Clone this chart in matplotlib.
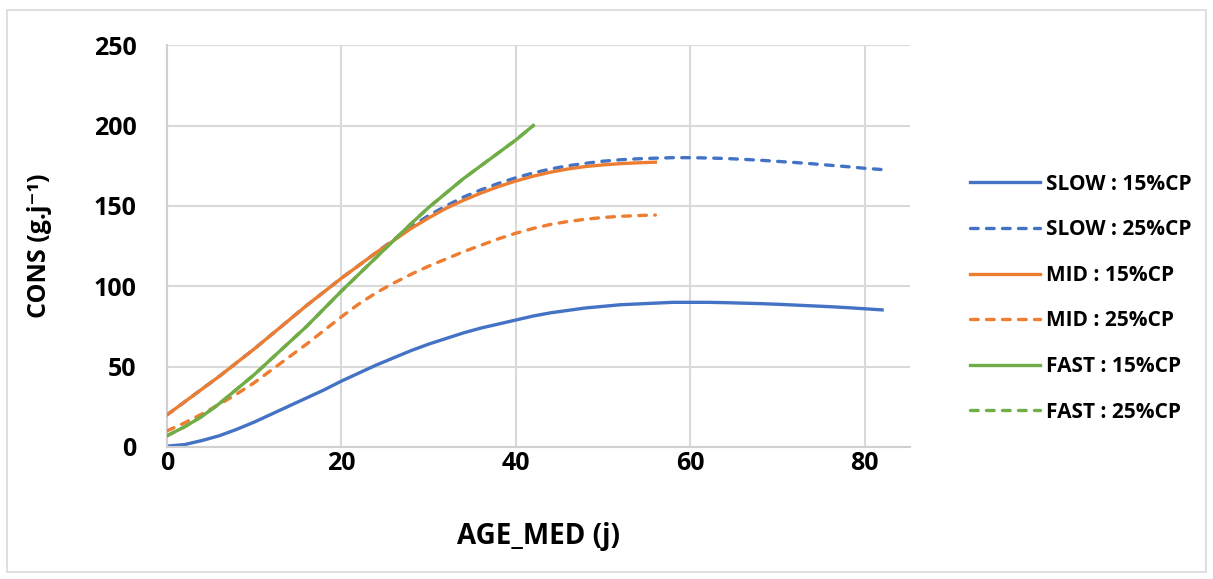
import matplotlib
matplotlib.use("Agg")
import matplotlib.pyplot as plt
from matplotlib.patches import Rectangle

plt.rcParams['font.family'] = ['Open Sans', 'DejaVu Sans']
plt.rcParams['font.weight'] = 'bold'

# values
slow15_x = list(range(0, 83, 2))
slow15_y = [0.5, 1.5, 4, 7, 11, 15.5, 20.5, 25.5, 30.5, 35.5, 41, 46, 51, 55.5, 60, 64, 67.5, 71, 74, 76.5, 79,
            81.5, 83.5, 85, 86.5, 87.5, 88.5, 89, 89.5, 90, 90, 90, 89.8, 89.5, 89.2, 88.8, 88.3, 87.8, 87.3,
            86.7, 86, 85.3]

slow25_x = list(range(0, 83, 2))
slow25_y = [20, 28, 36, 44, 52.5, 61, 70, 79, 88, 96.5, 105, 113, 121, 129, 137, 144, 150, 155.5, 160, 164,
            167.5, 170.5, 173, 175, 176.5, 177.8, 178.7, 179.3, 179.7, 180, 180, 179.8, 179.5, 179, 178.4,
            177.7, 177, 176.2, 175.3, 174.4, 173.4, 172.6]

mid15_x = list(range(0, 57, 2))
mid15_y = [20, 28, 36, 44, 52.5, 61, 70, 79, 88, 96.5, 105, 113, 121, 128.5, 136, 142.5, 148.5, 153.5, 158,
           162, 165.5, 168.5, 171, 173, 174.5, 175.5, 176.3, 176.8, 177.2]

mid25_x = list(range(0, 57, 2))
mid25_y = [10, 15, 20.5, 26.5, 33, 40, 48, 56, 64, 72.5, 81, 89, 96, 102, 107.5, 112.5, 117, 121.5, 125.5,
           129.5, 133, 136, 138.5, 140.3, 141.7, 142.8, 143.5, 144, 144.3]

fast15_x = list(range(0, 43, 2))
fast15_y = [7, 12.5, 19, 27, 36, 45, 55, 65, 75, 86, 97, 107.5, 118, 128.5, 139, 149, 158, 167, 175, 183,
            191, 200]

fast25_x = fast15_x
fast25_y = fast15_y

blue = '#4472C4'
orange = '#ED7D31'
green = '#70AD47'

fig = plt.figure(figsize=(12.13, 5.79), dpi=100)
ax = fig.add_axes([0.1377, 0.228, 0.6125, 0.694])

lw = 2.4
dash = (0, (2.3, 2.5))
dkw = dict(ls=dash, dash_capstyle='round')
ax.plot(slow15_x, slow15_y, color=blue, lw=lw, label='SLOW : 15%CP')
ax.plot(slow25_x, slow25_y, color=blue, lw=lw, label='SLOW : 25%CP', **dkw)
ax.plot(fast25_x, fast25_y, color=green, lw=lw, label='FAST : 25%CP', zorder=2, **dkw)
ax.plot(mid15_x, mid15_y, color=orange, lw=lw, label='MID : 15%CP', zorder=3)
ax.plot(mid25_x, mid25_y, color=orange, lw=lw, label='MID : 25%CP', zorder=3, **dkw)
ax.plot(fast15_x, fast15_y, color=green, lw=lw, label='FAST : 15%CP', zorder=3)

ax.set_xlim(0, 85.2)
ax.set_ylim(0, 250)
ax.set_xticks([0, 20, 40, 60, 80])
ax.set_yticks([0, 50, 100, 150, 200, 250])
ax.grid(True, color='#D9D9D9', lw=1.5)
ax.set_axisbelow(True)
for s in ['top', 'right']:
    ax.spines[s].set_visible(False)
for s in ['left', 'bottom']:
    ax.spines[s].set_color('#D0D0D0')
    ax.spines[s].set_linewidth(1.5)
ax.tick_params(length=0, labelsize=18)
ax.tick_params(axis='y', pad=22)
ax.tick_params(axis='x', pad=3)
for t in ax.get_xticklabels() + ax.get_yticklabels():
    t.set_fontweight('bold')

ax.set_xlabel('AGE_MED (j)', fontsize=20, fontweight='bold', labelpad=33)
ax.set_ylabel('CONS (g.j⁻¹)', fontsize=18, fontweight='bold', labelpad=30)

h, l = ax.get_legend_handles_labels()
order = ['SLOW : 15%CP', 'SLOW : 25%CP', 'MID : 15%CP', 'MID : 25%CP', 'FAST : 15%CP', 'FAST : 25%CP']
hd = dict(zip(l, h))
leg = fig.legend([hd[o] for o in order], order, loc='center left',
                 bbox_to_anchor=(0.784, 0.485), frameon=False,
                 prop={'size': 15, 'weight': 'bold'}, handlelength=3.35,
                 labelspacing=1.18, handletextpad=0.3)

fig.add_artist(Rectangle((0.006, 0.012), 0.988, 0.971, transform=fig.transFigure,
                         fill=False, edgecolor='#D9D9D9', lw=1.2))

fig.savefig('out.png', dpi=100)
